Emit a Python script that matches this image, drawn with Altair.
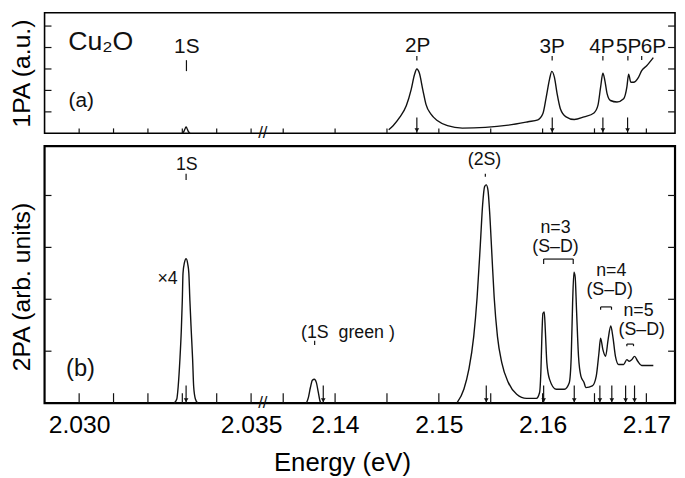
import altair as alt
import pandas as pd

# ---------------- broken energy axis: energy -> horizontal position ----------------
def pos(E):
    if E < 2.1:
        return 79 + (E - 2.030) * 34800
    return 443 + (E - 2.150) * 10500

BREAK_E = 2.03534
X_DOMAIN = [44, 682]
W, HA, HB = 638, 122, 260
FONT = "Liberation Sans, Arial, sans-serif"
INK = "#111111"

# ---------------- data ----------------
# (a) one-photon absorption
a_main_E = [2.14517, 2.14559, 2.14622, 2.14686, 2.14733, 2.14765, 2.14788, 2.14812, 2.14845, 2.14876,
            2.14924, 2.14988, 2.15083, 2.15226, 2.15448, 2.15670, 2.15860, 2.15955, 2.16003, 2.16035,
            2.16067, 2.16089, 2.16114, 2.16140, 2.16171, 2.16226, 2.16305, 2.16400, 2.16495, 2.16533,
            2.16559, 2.16581, 2.16600, 2.16622, 2.16654, 2.16717, 2.16781, 2.16812, 2.16829, 2.16850,
            2.16876, 2.16924, 2.16955, 2.17003, 2.17067]
a_main_I = [0.17, 0.355, 0.74, 1.28, 2.04, 2.73, 3.0, 2.81, 2.04, 1.35,
            0.89, 0.585, 0.355, 0.245, 0.276, 0.38, 0.54, 0.63, 0.92, 1.69,
            2.53, 2.89, 2.61, 1.84, 1.15, 0.77, 0.645, 0.77, 0.95, 1.30,
            2.15, 2.80, 2.46, 1.84, 1.53, 1.46, 1.61, 2.15, 2.76, 2.38,
            2.38, 2.61, 2.92, 3.15, 3.53]
a_1s_E = [2.03300, 2.03305, 2.03309, 2.03311, 2.03313, 2.03317, 2.03322]
a_1s_I = [0.0, 0.1, 0.25, 0.3, 0.25, 0.1, 0.0]

a_lab_text = ["1S", "2P", "3P", "4P", "5P", "6P"]
a_lab_E = [2.03313, 2.14795, 2.16092, 2.16571, 2.16829, 2.17067]
a_lab_I = [3.74, 3.80, 3.76, 3.76, 3.76, 3.76]
a_mark_E = [2.03312, 2.14788, 2.16092, 2.16581, 2.16822, 2.16955]
a_mark_lo = [2.90, 3.40, 3.40, 3.40, 3.40, 3.42]
a_mark_hi = [3.41, 3.61, 3.61, 3.61, 3.61, 3.61]
a_arrow_E = [2.14788, 2.16093, 2.16581, 2.16819]

# (b) two-photon absorption
b_1s_E = [2.03276, 2.03284, 2.03288, 2.03293, 2.03297, 2.03300, 2.03302, 2.03306, 2.03311,
          2.03316, 2.03319, 2.03322, 2.03326, 2.03330, 2.03333, 2.03338, 2.03345]
b_1s_I = [0, 0.08, 0.32, 0.84, 1.39, 1.98, 2.50, 2.70, 2.78, 2.67, 2.50, 1.98, 1.39, 0.84, 0.32, 0.08, 0]
b_gr_E = [2.13724, 2.13743, 2.13762, 2.13781, 2.13800, 2.13819, 2.13838, 2.13852, 2.13862]
b_gr_I = [0, 0.11, 0.30, 0.44, 0.46, 0.40, 0.21, 0.06, 0]
b_main_E = [2.15178, 2.15241, 2.15289, 2.15336, 2.15369, 2.15400, 2.15422, 2.15441, 2.15457, 2.15473,
            2.15489, 2.15511, 2.15533, 2.15565, 2.15607, 2.15670, 2.15750, 2.15845, 2.15940, 2.15971,
            2.15984, 2.15993, 2.16003, 2.16016, 2.16026, 2.16041, 2.16067, 2.16130, 2.16210, 2.16257,
            2.16276, 2.16289, 2.16302, 2.16314, 2.16327, 2.16346, 2.16369, 2.16400, 2.16416, 2.16479,
            2.16517, 2.16543, 2.16559, 2.16581, 2.16607, 2.16631, 2.16657, 2.16679, 2.16702, 2.16733,
            2.16781, 2.16812, 2.16835, 2.16860, 2.16886, 2.16917, 2.16955, 2.17067]
b_main_I = [0.013, 0.267, 0.648, 1.282, 2.044, 3.061, 3.823, 4.171, 4.204, 4.109,
            3.695, 2.870, 2.044, 1.282, 0.775, 0.394, 0.171, 0.090, 0.090, 0.204,
            0.648, 1.282, 1.728, 1.758, 1.410, 0.775, 0.457, 0.267, 0.267, 0.394,
            0.901, 1.918, 2.520, 2.425, 1.790, 0.901, 0.520, 0.394, 0.299, 0.330,
            0.520, 0.966, 1.251, 1.029, 0.901, 1.219, 1.486, 1.251, 0.901, 0.743,
            0.743, 0.838, 0.806, 0.838, 0.901, 0.806, 0.724, 0.724]

b_lab_text = ["1S", "\u00d74", "(1S\u00a0\u00a0green\u00a0)", "(2S)", "n=3", "(S\u2013D)",
              "n=4", "(S\u2013D)", "n=5", "(S\u2013D)"]
b_lab_E = [2.03313, 2.03257, 2.14124, 2.15440, 2.16124, 2.16124, 2.16662, 2.16646, 2.16924, 2.16955]
b_lab_I = [4.50, 2.30, 1.26, 4.59, 3.27, 2.905, 2.45, 2.085, 1.68, 1.315]
b_mark_E = [2.03311, 2.13803, 2.15448]
b_mark_lo = [4.30, 1.12, 4.36]
b_mark_hi = [4.42, 1.20, 4.42]
b_arrow_E = [2.03311, 2.13886, 2.15457, 2.16010, 2.16305, 2.16552, 2.16667, 2.16800, 2.16886]
b_br_E1 = [2.16010, 2.16559, 2.16812]
b_br_E2 = [2.16295, 2.16664, 2.16876]
b_br_I = [2.775, 1.853, 1.137]
b_br_drop = [0.095, 0.055, 0.04]

# axis ticks and labels
tick_E = [2.030, 2.031, 2.032, 2.033, 2.034, 2.035,
          2.135, 2.140, 2.145, 2.150, 2.155, 2.160, 2.165, 2.170]
label_E = [2.030, 2.035, 2.14, 2.15, 2.16, 2.17]
label_txt = ["2.030", "2.035", "2.14", "2.15", "2.16", "2.17"]
ya_ticks = [1, 2, 3, 4, 5]
yb_ticks = [1, 2, 3, 4]

# ---------------- helpers ----------------
def pts(E, I, seg="s"):
    return pd.DataFrame({"pos": [pos(e) for e in E], "val": I, "seg": seg})

label_pos = [pos(e) for e in label_E]
expr = "''"
for p, t in zip(reversed(label_pos), reversed(label_txt)):
    expr = f"abs(datum.value - {p:.3f}) < 0.5 ? '{t}' : ({expr})"

xs = alt.Scale(domain=X_DOMAIN, nice=False, zero=False)
XA = alt.X("pos:Q", scale=xs, axis=None)
XB = alt.X("pos:Q", scale=xs, axis=alt.Axis(
    values=label_pos, labelExpr=expr, ticks=False, domain=False, grid=False,
    labelFont=FONT, labelFontSize=25, labelColor="black", labelPadding=10,
    labelFlush=False, labelOverlap=False, labelBound=False,
    title="Energy (eV)", titleFont=FONT, titleFontSize=26, titleFontWeight="normal",
    titleColor="black", titleX=301, titleY=68, titleAlign="center", titleBaseline="alphabetic"))


def yenc(field, domain, title, ty):
    return alt.Y(field, scale=alt.Scale(domain=domain, nice=False, zero=False), axis=alt.Axis(
        title=title, labels=False, ticks=False, domain=False, grid=False,
        titleFont=FONT, titleFontSize=25, titleFontWeight="normal", titleColor="black",
        titleX=-15, titleY=ty, titleAngle=-90, titleAlign="center", titleBaseline="alphabetic"))


def panel(X, Y, H, lines, yt, tick_len, arrow_len, arrow_E, lab, marks, fs, extra):
    layers = []
    layers.append(alt.Chart(lines).mark_line(color=INK, strokeWidth=1.4, interpolate="monotone")
                  .encode(x=X, y=Y, detail="seg:N"))
    layers.append(alt.Chart(pd.DataFrame({"pos": [pos(e) for e in tick_E]})).mark_rule(color=INK, strokeWidth=1.2)
                  .encode(x=X, y=alt.value(H), y2=alt.value(H - tick_len)))
    ydf = pd.DataFrame({"val": yt})
    layers.append(alt.Chart(ydf).mark_rule(color=INK, strokeWidth=1.2)
                  .encode(y=Y, x=alt.value(0), x2=alt.value(7)))
    layers.append(alt.Chart(ydf).mark_rule(color=INK, strokeWidth=1.2)
                  .encode(y=Y, x=alt.value(W - 7), x2=alt.value(W)))
    adf = pd.DataFrame({"pos": [pos(e) for e in arrow_E], "val": 0.0, "top": arrow_len})
    layers.append(alt.Chart(adf).mark_rule(color=INK, strokeWidth=1.2)
                  .encode(x=X, y=Y, y2=alt.Y2("top:Q")))
    layers.append(alt.Chart(adf).mark_point(shape="triangle-down", filled=True, color=INK, size=22,
                                            opacity=1, yOffset=-3)
                  .encode(x=X, y=Y))
    layers.append(alt.Chart(marks).mark_rule(color=INK, strokeWidth=1.2)
                  .encode(x=X, y=Y, y2=alt.Y2("hi:Q")))
    layers.append(alt.Chart(lab).mark_text(font=FONT, fontSize=fs, color=INK, align="center",
                                           baseline="alphabetic")
                  .encode(x=X, y=Y, text="txt:N"))
    layers.append(alt.Chart(pd.DataFrame({"pos": [pos(BREAK_E)], "txt": ["//"]}))
                  .mark_text(font=FONT, fontSize=17, color=INK, align="center", baseline="middle")
                  .encode(x=X, y=alt.value(H), text="txt:N"))
    layers += extra
    return alt.layer(*layers).properties(width=W, height=H)


# ---------- panel (a) ----------
YA = yenc("val:Q", [0, 5.62], "1PA (a.u.)", 61)
a_lines = pd.concat([pts(a_main_E, a_main_I, "main"), pts(a_1s_E, a_1s_I, "1s")])
a_lab = pd.DataFrame({"pos": [pos(e) for e in a_lab_E], "val": a_lab_I, "txt": a_lab_text})
a_marks = pd.DataFrame({"pos": [pos(e) for e in a_mark_E], "val": a_mark_lo, "hi": a_mark_hi})
a_extra = [
    alt.Chart(pd.DataFrame({"pos": [pos(2.02968)], "val": [3.87], "txt": ["Cu\u2082O"]}))
    .mark_text(font=FONT, fontSize=27, color=INK, align="left", baseline="alphabetic")
    .encode(x=XA, y=YA, text="txt:N"),
    alt.Chart(pd.DataFrame({"pos": [pos(2.03006)], "val": [1.24], "txt": ["(a)"]}))
    .mark_text(font=FONT, fontSize=21, color=INK, align="center", baseline="alphabetic")
    .encode(x=XA, y=YA, text="txt:N"),
]
panel_a = panel(XA, YA, HA, a_lines, ya_ticks, 5, 0.74, a_arrow_E, a_lab, a_marks, 21, a_extra)

# ---------- panel (b) ----------
YB = yenc("val:Q", [0, 4.95], "2PA (arb. units)", 142)
b_lines = pd.concat([pts(b_1s_E, b_1s_I, "1s"), pts(b_gr_E, b_gr_I, "green"), pts(b_main_E, b_main_I, "main")])
b_lab = pd.DataFrame({"pos": [pos(e) for e in b_lab_E], "val": b_lab_I, "txt": b_lab_text})
b_marks = pd.DataFrame({"pos": [pos(e) for e in b_mark_E], "val": b_mark_lo, "hi": b_mark_hi})
br_h = pd.DataFrame({"pos": [pos(e) for e in b_br_E1], "pos2": [pos(e) for e in b_br_E2], "val": b_br_I})
br_v = pd.DataFrame({"pos": [pos(e) for e in b_br_E1] + [pos(e) for e in b_br_E2],
                     "val": b_br_I * 2,
                     "lo": [i - d for i, d in zip(b_br_I, b_br_drop)] * 2})
b_extra = [
    alt.Chart(br_h).mark_rule(color=INK, strokeWidth=1.2).encode(x=XB, x2=alt.X2("pos2:Q"), y=YB),
    alt.Chart(br_v).mark_rule(color=INK, strokeWidth=1.2).encode(x=XB, y=YB, y2=alt.Y2("lo:Q")),
    alt.Chart(pd.DataFrame({"pos": [pos(2.03004)], "val": [0.53], "txt": ["(b)"]}))
    .mark_text(font=FONT, fontSize=24, color=INK, align="center", baseline="alphabetic")
    .encode(x=XB, y=YB, text="txt:N"),
]
panel_b = panel(XB, YB, HB, b_lines, yb_ticks, 10, 0.34, b_arrow_E, b_lab, b_marks, 18, b_extra)
panel_b = panel_b.properties(view=alt.ViewBackground(stroke="black", strokeWidth=2.2))

chart = (alt.vconcat(panel_a, panel_b, spacing=13, bounds="flush")
         .properties(padding={"left": 0, "top": 1, "right": 0, "bottom": 0})
         .configure_view(stroke="black", strokeWidth=1.6)
         .configure_axis(grid=False))

chart.save("out.html", embed_options={"renderer": "svg", "actions": False})
